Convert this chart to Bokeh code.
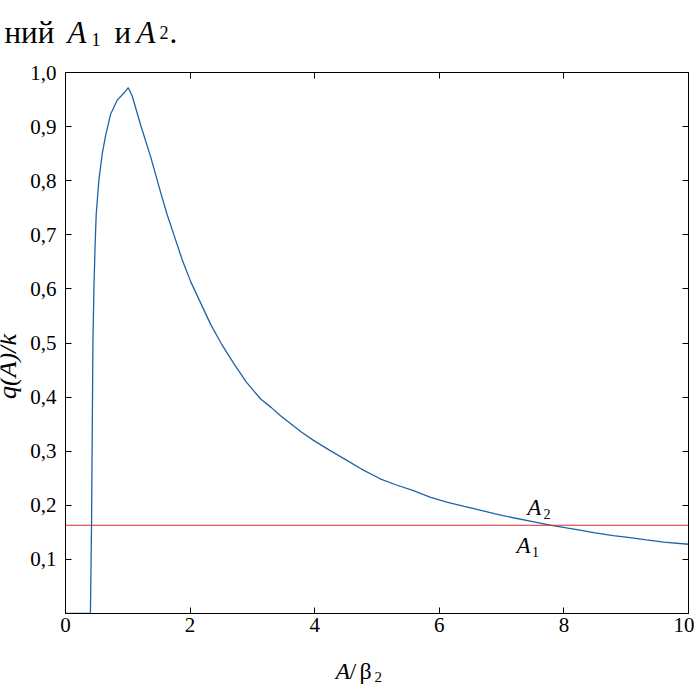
import math
from bokeh.plotting import figure
from bokeh.models import Range1d, FixedTicker, LinearAxis, Label, Span
from bokeh.layouts import column, row
from bokeh.embed import file_html
from bokeh.resources import INLINE

# ---- data ----
a_vals = [0.0, 0.40, 0.418, 0.44, 0.456, 0.475, 0.493, 0.536, 0.59, 0.643, 0.724,
          0.831, 0.938, 1.008, 1.072, 1.206, 1.367, 1.528, 1.63, 1.743, 1.87, 2.011,
          2.332, 2.5, 2.708, 2.9, 3.137, 3.3, 3.447, 3.78, 3.981, 4.25, 4.516, 4.75,
          5.05, 5.3, 5.585, 5.85, 6.12, 6.4, 6.654, 6.9, 7.188, 7.5, 7.80, 8.257,
          8.5, 8.791, 9.0, 9.326, 9.6, 10.0]
q_vals = [0.0, 0.0, 0.165, 0.50, 0.60, 0.68, 0.738, 0.801, 0.850, 0.883, 0.923,
          0.949, 0.962, 0.972, 0.956, 0.903, 0.844, 0.778, 0.738, 0.699, 0.655, 0.613,
          0.534, 0.499, 0.461, 0.428, 0.396, 0.381, 0.366, 0.336, 0.320, 0.301, 0.283, 0.267,
          0.249, 0.238, 0.227, 0.215, 0.206, 0.198, 0.191, 0.184, 0.177, 0.170, 0.163, 0.154,
          0.149, 0.144, 0.141, 0.136, 0.132, 0.128]
threshold = 0.163

x_ticks = [0, 2, 4, 6, 8, 10]
x_tick_labels = ["0", "2", "4", "6", "8", "10"]
y_ticks = [0.1, 0.2, 0.3, 0.4, 0.5, 0.6, 0.7, 0.8, 0.9, 1.0]
y_tick_labels = ["0,1", "0,2", "0,3", "0,4", "0,5", "0,6", "0,7", "0,8", "0,9", "1,0"]

FONT = "Liberation Serif"

W, H = 694, 684
HEAD_H, XLAB_H, YLAB_W = 48, 40, 26
MAIN_H = H - HEAD_H - XLAB_H

p = figure(width=W - YLAB_W, height=MAIN_H, x_range=Range1d(0, 10), y_range=Range1d(0, 1),
           output_backend="svg", toolbar_location=None,
           min_border_left=65 - YLAB_W, min_border_right=6,
           min_border_top=72 - HEAD_H, min_border_bottom=(H - XLAB_H) - 613)
p.grid.visible = False
p.outline_line_color = "black"
p.outline_line_width = 1
p.background_fill_color = "white"
p.border_fill_color = "white"

def style_axis(ax, ticks, labels, size="21px", standoff=4):
    ax.ticker = FixedTicker(ticks=ticks)
    ax.major_label_overrides = dict(zip(ticks, labels))
    ax.major_tick_in = 6
    ax.major_tick_out = 0
    ax.minor_tick_line_color = None
    ax.major_tick_line_color = "black"
    ax.axis_line_color = "black"
    ax.major_label_text_font = FONT
    ax.major_label_text_font_size = size
    ax.major_label_text_color = "black"
    ax.major_label_standoff = standoff

style_axis(p.xaxis[0], x_ticks, x_tick_labels, standoff=4)
style_axis(p.yaxis[0], y_ticks, y_tick_labels, standoff=9)

top = LinearAxis()
style_axis(top, x_ticks, [""] * len(x_ticks), size="2px", standoff=0)
p.add_layout(top, "above")
right = LinearAxis()
style_axis(right, y_ticks, [""] * len(y_ticks), size="2px", standoff=0)
p.add_layout(right, "right")

p.line(a_vals, q_vals, line_color="#1f62a6", line_width=1.3)
p.add_layout(Span(location=threshold, dimension="width", line_color="#d62a2e", line_width=1.1))


def blank(w, h):
    f = figure(width=w, height=h, output_backend="svg", toolbar_location=None,
               x_range=Range1d(0, w), y_range=Range1d(0, h),
               x_axis_location=None, y_axis_location=None,
               min_border_left=0, min_border_right=0, min_border_top=0, min_border_bottom=0)
    f.grid.visible = False
    f.outline_line_color = None
    f.background_fill_color = "white"
    f.border_fill_color = "white"
    return f


def lab(fig, text, px, py, size, italic=False, align="left", angle=0.0, baseline="alphabetic"):
    fig.add_layout(Label(x=px, y=py, x_units="canvas", y_units="canvas",
                         text=text, text_font=FONT, text_font_size=f"{size}px",
                         text_font_style="italic" if italic else "normal",
                         text_align=align, text_baseline=baseline, angle=angle,
                         text_color="black"))

# heading fragment (top strip starts at page y = 0)
head = blank(W, HEAD_H)
lab(head, "ний", 4, 32, 31)
lab(head, "A", 67, 32, 31, italic=True)
lab(head, "1", 91, 39, 18)
lab(head, "и", 114, 32, 31)
lab(head, "A", 136, 32, 31, italic=True)
lab(head, "2", 159, 32, 18)
lab(head, ".", 169, 32, 31)

# y axis title (strip starts at page y = HEAD_H); rotated about its box centre
ylab = blank(YLAB_W, MAIN_H)
lab(ylab, "q(A)/k", 7, 366 - HEAD_H, 26, italic=True, align="center",
    angle=math.pi / 2, baseline="middle")

# x axis title (strip starts at page y = H - XLAB_H)
y0 = H - XLAB_H
xlab = blank(W, XLAB_H)
lab(xlab, "A", 335, 670 - y0, 24, italic=True)
lab(xlab, "/", 349, 670 - y0, 24)
lab(xlab, "β", 359, 670 - y0, 24)
lab(xlab, "2", 374, 676 - y0, 15)

# intersection labels (main figure canvas starts at page x = YLAB_W, y = HEAD_H)
lab(p, "A", 526.7 - YLAB_W, 506.7 - HEAD_H, 23, italic=True)
lab(p, "2", 543.0 - YLAB_W, 513.0 - HEAD_H, 14)
lab(p, "A", 516.0 - YLAB_W, 545.0 - HEAD_H, 23, italic=True)
lab(p, "1", 531.5 - YLAB_W, 551.7 - HEAD_H, 14)

layout = column(head, row(ylab, p), xlab)
open("out.html", "w").write(file_html(layout, INLINE))
